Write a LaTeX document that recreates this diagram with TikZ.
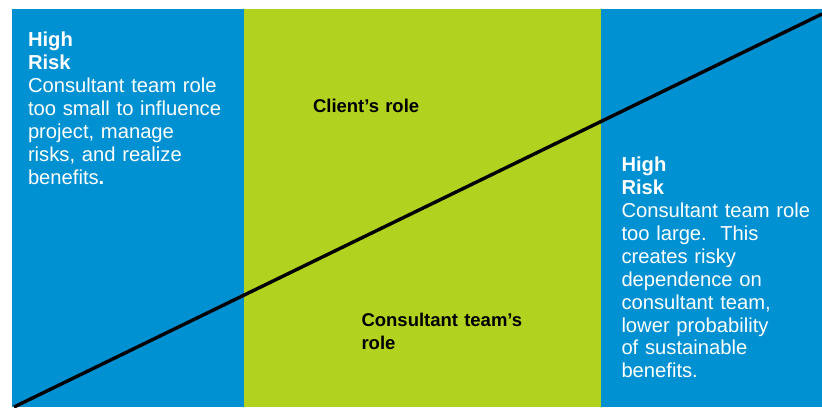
\documentclass[tikz,border=0pt]{standalone}
\usepackage{fontspec}
\setmainfont{Liberation Sans}

\definecolor{riskblue}{RGB}{0,145,210}
\definecolor{rolegreen}{RGB}{177,210,30}

\tikzset{
  every node/.style={inner sep=0pt,outer sep=0pt},
  risk/.style={anchor=base west,text width=215pt,align=left,text=white,
    font=\fontsize{20.2}{22.9}\selectfont},
  role/.style={anchor=base west,text width=190pt,align=left,text=black,
    font=\fontsize{18.5}{22.7}\selectfont\bfseries}
}

\begin{document}
\begin{tikzpicture}[x=1pt,y=-1pt]
      \useasboundingbox (0,0) rectangle (822,407);
      \fill [riskblue] (12,9) rectangle (822,407);
      \fill [rolegreen] (244,9) rectangle (601,407);

      \node [risk] (left) at (28,46.7) {\textbf{High}\\\textbf{Risk}\\
        Consultant team role\\too small to influence\\project, manage\\
        risks, and realize\\benefits\textbf{.}};
      \node [risk] (right) at (621.5,171.7) {\textbf{High}\\\textbf{Risk}\\
        Consultant team role\\too large.\ \ This\\creates risky\\
        dependence on\\consultant team,\\lower probability\\
        of sustainable\\benefits.};

      \node [role] (client) at (313,112.7) {Client’s role};
      \node [role] (team) at (361.5,326.7) {Consultant team’s\\role};

      \coordinate (lo) at (14,407);
      \coordinate (hi) at (822,14);
      \begin{scope}
        \clip (0,0) rectangle (822,407);
        \draw [line width=3.4pt] (lo) -- (hi);
      \end{scope}
    \end{tikzpicture}
\end{document}
